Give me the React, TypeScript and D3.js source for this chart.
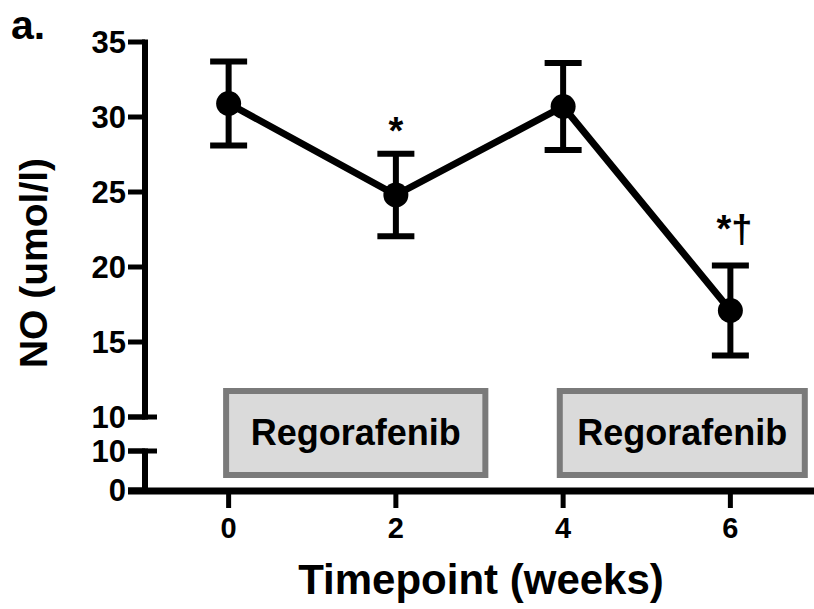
import React from "react";
import * as d3 from "d3";

const weeks = [0, 2, 4, 6];
const means = [30.9, 24.8, 30.7, 17.1];
const errors = [2.8, 2.75, 2.9, 3.0];
const marks = ["", "*", "", "*†"];
const upperTicks = [10, 15, 20, 25, 30, 35];
const lowerTicks = [0, 10];
const xTicks = [0, 2, 4, 6];
const boxStarts = [-0.03, 3.96];
const boxEnds = [3.07, 6.89];
const boxLabels = ["Regorafenib", "Regorafenib"];

const W = 814;
const H = 609;
const font = "'Liberation Sans', Arial, sans-serif";
// gap between top error cap and annotation baseline
const markGap = [0, 10, 0, 24];

export default function App() {
  const x = d3.scaleLinear().domain([-1, 7]).range([145, 814]);
  const yUp = d3.scaleLinear().domain([10, 35]).range([417, 42]);
  const yLow = d3.scaleLinear().domain([0, 10]).range([490, 451]);

  const axisX = 145;
  const line = d3
    .line<number>()
    .x((d, i) => x(weeks[i]))
    .y((d) => yUp(d));

  return (
    <svg
      width={W}
      height={H}
      style={{ position: "absolute", left: 0, top: 0, background: "#fff" }}
      fontFamily={font}
      fontWeight="bold"
    >
      <text x={11} y={39} fontSize={41}>a.</text>

      {/* y axis, upper part */}
      <line x1={axisX} x2={axisX} y1={yUp(35) - 2.5} y2={yUp(10) + 2.5} stroke="#000" strokeWidth={6} />
      <line x1={128} x2={157} y1={yUp(10)} y2={yUp(10)} stroke="#000" strokeWidth={5} />
      {upperTicks.map((t) => (
        <g key={"u" + t}>
          <line x1={128} x2={axisX} y1={yUp(t)} y2={yUp(t)} stroke="#000" strokeWidth={5} />
          <text x={126} y={yUp(t)} dy="0.36em" textAnchor="end" fontSize={31}>{t}</text>
        </g>
      ))}

      {/* y axis, lower part */}
      <line x1={axisX} x2={axisX} y1={yLow(10) - 2.5} y2={yLow(0)} stroke="#000" strokeWidth={6} />
      <line x1={128} x2={157} y1={yLow(10)} y2={yLow(10)} stroke="#000" strokeWidth={5} />
      {lowerTicks.map((t) => (
        <g key={"l" + t}>
          <line x1={128} x2={axisX} y1={yLow(t)} y2={yLow(t)} stroke="#000" strokeWidth={5} />
          <text x={126} y={yLow(t)} dy="0.36em" textAnchor="end" fontSize={31}>{t}</text>
        </g>
      ))}

      {/* x axis */}
      <line x1={128} x2={W} y1={yLow(0) + 1} y2={yLow(0) + 1} stroke="#000" strokeWidth={7} />
      {xTicks.map((t) => (
        <g key={"x" + t}>
          <line x1={x(t)} x2={x(t)} y1={yLow(0)} y2={yLow(0) + 18} stroke="#000" strokeWidth={5} />
          <text x={x(t)} y={yLow(0) + 48} textAnchor="middle" fontSize={29}>{t}</text>
        </g>
      ))}

      {/* treatment boxes */}
      {boxStarts.map((s, i) => (
        <g key={"b" + i}>
          <rect
            x={x(s)}
            y={391}
            width={x(boxEnds[i]) - x(s)}
            height={84}
            fill="#dadada"
            stroke="#7a7a7a"
            strokeWidth={6}
          />
          <text x={(x(s) + x(boxEnds[i])) / 2} y={445} textAnchor="middle" fontSize={36}>
            {boxLabels[i]}
          </text>
        </g>
      ))}

      {/* series */}
      <path d={line(means) || ""} fill="none" stroke="#000" strokeWidth={7} strokeLinejoin="round" />
      {means.map((m, i) => {
        const cx = x(weeks[i]);
        const top = yUp(m + errors[i]);
        const bot = yUp(m - errors[i]);
        return (
          <g key={"p" + i}>
            <line x1={cx} x2={cx} y1={top} y2={bot} stroke="#000" strokeWidth={6} />
            <line x1={cx - 18.5} x2={cx + 18.5} y1={top} y2={top} stroke="#000" strokeWidth={6} />
            <line x1={cx - 18.5} x2={cx + 18.5} y1={bot} y2={bot} stroke="#000" strokeWidth={6} />
            <circle cx={cx} cy={yUp(m)} r={12.5} fill="#000" />
            {marks[i] && (
              <text
                x={cx + (marks[i].length > 1 ? 4 : 0)}
                y={top - markGap[i]}
                textAnchor="middle"
                fontSize={38}
              >
                {marks[i]}
              </text>
            )}
          </g>
        );
      })}

      <text transform="translate(47,263) rotate(-90)" textAnchor="middle" fontSize={39}>
        NO (umol/l)
      </text>
      <text x={481} y={594} textAnchor="middle" fontSize={42}>Timepoint (weeks)</text>
    </svg>
  );
}
